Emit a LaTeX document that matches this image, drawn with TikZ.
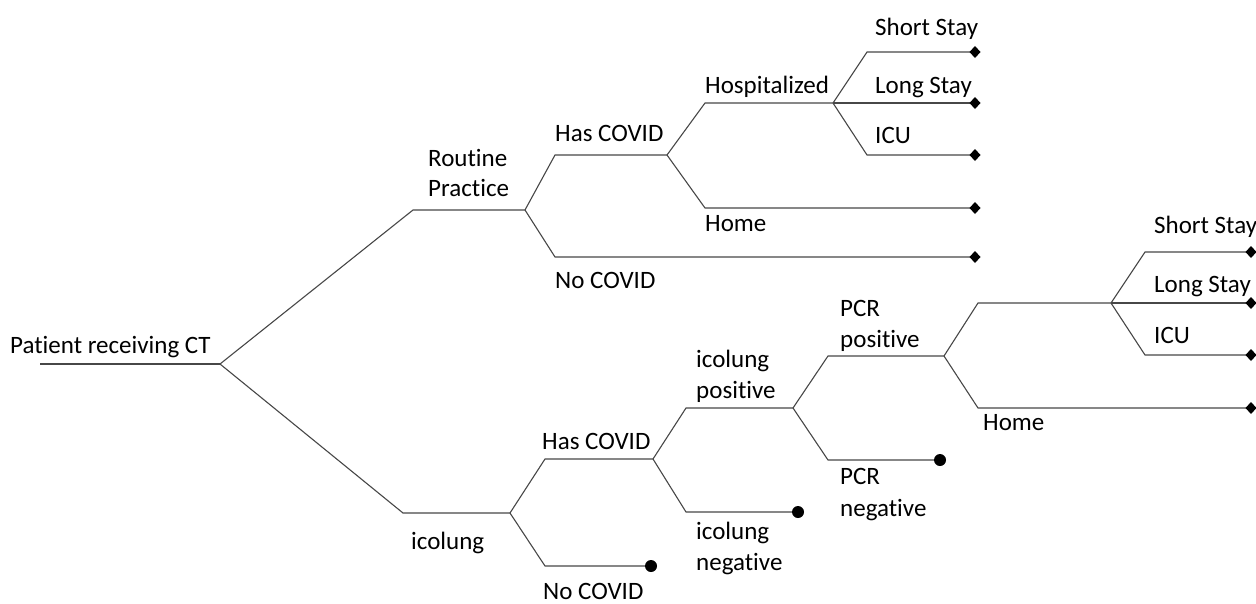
\documentclass[tikz,border=0pt]{standalone}
\usepackage{fontspec}
\setmainfont{Carlito}[Ligatures=NoCommon]
\begin{document}
\begin{tikzpicture}[x=1pt,y=-1pt,
  br/.style={draw=black!72,line width=1.1pt},
  lab/.style={anchor=base west,inner sep=0pt,font=\fontsize{25}{30}\selectfont}]
\useasboundingbox (0,0) rectangle (1256,603);
% coordinates
\coordinate (r0) at (40,364);
\coordinate (r) at (220,364);
\coordinate (rpb) at (413,210); \coordinate (rp) at (525,210);
\coordinate (hc1b) at (555,155); \coordinate (hc1) at (667,155);
\coordinate (nc1b) at (555,257); \coordinate (nc1) at (975,257);
\coordinate (hob) at (705,103); \coordinate (ho) at (833,103);
\coordinate (hm1b) at (705,208); \coordinate (hm1) at (975,208);
\coordinate (ss1b) at (867,52); \coordinate (ss1) at (975,52);
\coordinate (ls1) at (975,103);
\coordinate (icu1b) at (867,155); \coordinate (icu1) at (975,155);
\coordinate (icb) at (403,513); \coordinate (ic) at (510,513);
\coordinate (hc2b) at (545,459); \coordinate (hc2) at (653,459);
\coordinate (nc2b) at (545,566); \coordinate (nc2) at (651,566);
\coordinate (ipb) at (686,408); \coordinate (ip) at (793,408);
\coordinate (inb) at (686,512); \coordinate (in) at (798,512);
\coordinate (ppb) at (828,356); \coordinate (pp) at (944,356);
\coordinate (pnb) at (828,460); \coordinate (pn) at (940,460);
\coordinate (h2b) at (978,303); \coordinate (h2) at (1111,303);
\coordinate (hm2b) at (978,408); \coordinate (hm2) at (1251,408);
\coordinate (ss2b) at (1145,252); \coordinate (ss2) at (1251,252);
\coordinate (ls2) at (1251,303);
\coordinate (icu2b) at (1145,355); \coordinate (icu2) at (1251,355);
% branches
\draw[br] (r0) -- (r);
\draw[br] (r) -- (rpb) -- (rp);
\draw[br] (rp) -- (hc1b) -- (hc1);
\draw[br] (rp) -- (nc1b) -- (nc1);
\draw[br] (hc1) -- (hob) -- (ho);
\draw[br] (hc1) -- (hm1b) -- (hm1);
\draw[br] (ho) -- (ss1b) -- (ss1);
\draw[br] (ho) -- (ls1);
\draw[br] (ho) -- (icu1b) -- (icu1);
\draw[br] (r) -- (icb) -- (ic);
\draw[br] (ic) -- (hc2b) -- (hc2);
\draw[br] (ic) -- (nc2b) -- (nc2);
\draw[br] (hc2) -- (ipb) -- (ip);
\draw[br] (hc2) -- (inb) -- (in);
\draw[br] (ip) -- (ppb) -- (pp);
\draw[br] (ip) -- (pnb) -- (pn);
\draw[br] (pp) -- (h2b) -- (h2);
\draw[br] (pp) -- (hm2b) -- (hm2);
\draw[br] (h2) -- (ss2b) -- (ss2);
\draw[br] (h2) -- (ls2);
\draw[br] (h2) -- (icu2b) -- (icu2);
% end markers
\foreach \p in {ss1,ls1,icu1,hm1,nc1,ss2,ls2,icu2,hm2}
  \fill[black,shift={(\p)}] (-5.5,0) -- (0,-6) -- (5.5,0) -- (0,6) -- cycle;
\foreach \p in {nc2,in,pn}
  \fill[black] (\p) circle (6);
% labels
\node[lab] (lr) at (10,353) {Patient receiving CT};
\node[lab] (lrp1) at (428,166) {Routine};
\node[lab] (lrp2) at (428,196) {Practice};
\node[lab] (lhc1) at (555,141) {Has COVID};
\node[lab] (lnc1) at (555,288) {No COVID};
\node[lab] (lho) at (705,93) {Hospitalized};
\node[lab] (lhm1) at (705,231) {Home};
\node[lab] (lss1) at (875,35) {Short Stay};
\node[lab] (lls1) at (875,93) {Long Stay};
\node[lab] (licu1) at (875,143) {ICU};
\node[lab] (lic) at (411,549) {icolung};
\node[lab] (lhc2) at (542,449) {Has COVID};
\node[lab] (lnc2) at (543,599) {No COVID};
\node[lab] (lip1) at (696,367) {icolung};
\node[lab] (lip2) at (696,398) {positive};
\node[lab] (lin1) at (696,539) {icolung};
\node[lab] (lin2) at (696,570) {negative};
\node[lab] (lpp1) at (840,316) {PCR};
\node[lab] (lpp2) at (840,347) {positive};
\node[lab] (lpn1) at (840,484) {PCR};
\node[lab] (lpn2) at (840,516) {negative};
\node[lab] (lhm2) at (983,430) {Home};
\node[lab] (lss2) at (1154,233) {Short Stay};
\node[lab] (lls2) at (1154,292) {Long Stay};
\node[lab] (licu2) at (1154,343) {ICU};
\end{tikzpicture}
\end{document}
